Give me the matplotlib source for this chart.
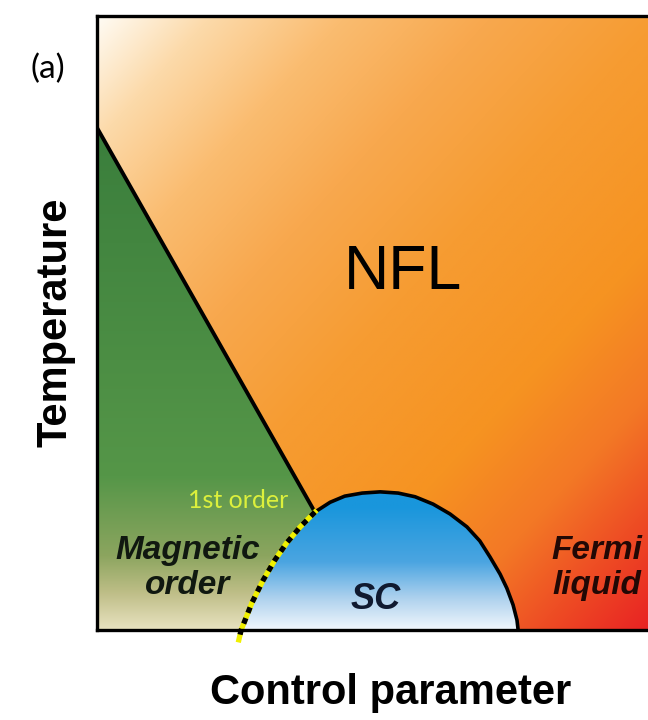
import numpy as np
import matplotlib.pyplot as plt
from matplotlib.patches import Polygon

plt.rcParams['font.family'] = ['Liberation Sans', 'DejaVu Sans']

# phase boundaries, control parameter and temperature both scaled to 0..1
mag_x = [0.0, 0.387]
mag_t = [0.818, 0.192]

dome_x = [0.387, 0.414, 0.440, 0.471, 0.503, 0.535, 0.565, 0.597, 0.627,
          0.657, 0.680, 0.698, 0.716, 0.728, 0.739, 0.746, 0.748]
dome_t = [0.192, 0.208, 0.218, 0.223, 0.225, 0.223, 0.217, 0.205, 0.189,
          0.168, 0.145, 0.119, 0.091, 0.068, 0.041, 0.016, 0.0]

first_x = [0.387, 0.361, 0.337, 0.316, 0.295, 0.275, 0.263, 0.256, 0.252]
first_t = [0.192, 0.168, 0.142, 0.114, 0.081, 0.044, 0.016, 0.0, -0.016]

# colour ramps (position, rgb)
nfl_pos = [0.0, 0.10, 0.22, 0.35, 0.50, 0.68, 0.80, 0.89, 1.0]
nfl_rgb = [(255, 252, 245), (252, 218, 170), (250, 188, 112), (248, 168, 78),
           (246, 156, 50), (246, 147, 33), (243, 120, 38), (238, 78, 36),
           (232, 30, 35)]
mag_pos = [0.0, 0.06, 0.12, 0.25, 0.82]
mag_rgb = [(232, 226, 192), (190, 190, 135), (140, 165, 95), (85, 150, 72),
           (58, 126, 60)]
sc_pos = [0.0, 0.05, 0.11, 0.20, 0.23]
sc_rgb = [(240, 246, 252), (175, 210, 238), (75, 165, 225), (25, 150, 220),
          (25, 150, 220)]


def ramp(pos, stops, colors):
    colors = np.array(colors) / 255.0
    return np.stack([np.interp(pos, stops, colors[:, k]) for k in range(3)], axis=-1)


n = 400
u, v = np.meshgrid(np.linspace(0, 1, n), np.linspace(0, 1, n))

fig = plt.figure(figsize=(6.48, 7.2), dpi=100)
ax = fig.add_axes([97 / 648, 90 / 720, 563 / 648, 614 / 720])
ax.set_xlim(0, 1)
ax.set_ylim(0, 1)

# non-fermi-liquid background, diagonal gradient
s = (u + (1 - v)) / 2
ax.imshow(ramp(s, nfl_pos, nfl_rgb), extent=(0, 1, 0, 1), origin='lower',
          aspect='auto', interpolation='bilinear', zorder=0)

# magnetic order region
mag_poly = Polygon(list(zip([0.0] + mag_x + first_x[1:8] + [0.0],
                            [0.0] + mag_t + first_t[1:8] + [0.0])),
                   transform=ax.transData, facecolor='none', edgecolor='none')
im = ax.imshow(ramp(v, mag_pos, mag_rgb), extent=(0, 1, 0, 1), origin='lower',
               aspect='auto', interpolation='bilinear', zorder=1)
im.set_clip_path(mag_poly)

# superconducting dome
sc_poly = Polygon(list(zip(first_x[:8][::-1] + dome_x, first_t[:8][::-1] + dome_t)),
                  transform=ax.transData, facecolor='none', edgecolor='none')
im = ax.imshow(ramp(v, sc_pos, sc_rgb), extent=(0, 1, 0, 1), origin='lower',
               aspect='auto', interpolation='bilinear', zorder=1)
im.set_clip_path(sc_poly)

ax.plot(mag_x, mag_t, color='k', lw=2.8, zorder=3)
ax.plot(dome_x, dome_t, color='k', lw=2.6, zorder=3)
ax.plot(first_x, first_t, color='#f0f000', lw=3.8, zorder=4, clip_on=False)
ax.plot(first_x, first_t, color='k', lw=3.8, dashes=(1.1, 1.1), zorder=4,
        clip_on=False)

for side in ['left', 'top', 'bottom']:
    ax.spines[side].set_linewidth(2.4)
    ax.spines[side].set_zorder(5)
ax.spines['right'].set_visible(False)
ax.set_xticks([])
ax.set_yticks([])

ax.text(0.5435, 0.583, 'NFL', fontsize=45, ha='center', va='center', zorder=6)
ax.text(0.1616, 0.101, 'Magnetic\norder', fontsize=24, fontweight='bold',
        fontstyle='italic', color='#101810', ha='center', va='center',
        linespacing=1.15, zorder=6)
ax.text(0.4956, 0.049, 'SC', fontsize=26, fontweight='bold', fontstyle='italic',
        color='#101a30', ha='center', va='center', zorder=6)
ax.text(0.888, 0.101, 'Fermi\nliquid', fontsize=24, fontweight='bold',
        fontstyle='italic', color='#220805', ha='center', va='center',
        linespacing=1.15, zorder=6)
ax.text(0.2504, 0.2117, '1st order', fontsize=18, family=['Lato', 'DejaVu Sans'],
        color='#dcf03c', ha='center', va='center', zorder=6)

fig.text(0.074, 0.904, '(a)', fontsize=24, family=['Lato', 'DejaVu Sans'],
         ha='center', va='center')
fig.text(0.085, 0.553, 'Temperature', fontsize=30, fontweight='bold',
         rotation=90, ha='center', va='center')
fig.text(0.603, 0.0375, 'Control parameter', fontsize=30, fontweight='bold',
         ha='center', va='center')

fig.savefig('out.png', dpi=100, facecolor='white')
